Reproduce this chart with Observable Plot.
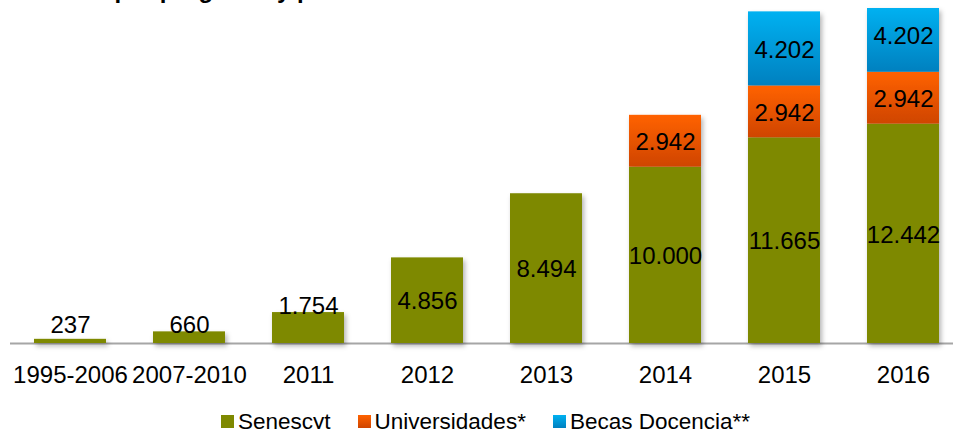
<!DOCTYPE html>
<html>
<head>
<meta charset="utf-8">
<script src="https://cdn.jsdelivr.net/npm/d3@7"></script>
<script src="https://cdn.jsdelivr.net/npm/@observablehq/plot@0.6"></script>
<style>
  html, body { margin: 0; padding: 0; background: #fff; overflow: hidden; }
  #wrap { position: relative; width: 953px; height: 429px; overflow: hidden; font-family: "Liberation Sans", Arial, sans-serif; }
  #title { position: absolute; left: 37px; top: -25px; font-weight: bold; font-size: 24px; line-height: 29px; white-space: nowrap; color: #000; }
  #legend { position: absolute; top: 408px; left: 0; width: 953px; box-sizing: border-box; padding-left: 18px;
            display: flex; justify-content: center; gap: 27px; font-size: 22.5px; line-height: 27px; color: #000; }
  .item { display: flex; align-items: center; gap: 4px; white-space: nowrap; }
  .sw { width: 13px; height: 13px; display: inline-block; }
</style>
</head>
<body>
<div id="wrap">
  <div id="title">Becas por programa y por año</div>
  <div id="chart"></div>
  <div id="legend"></div>
</div>
<script>
const categories = ["1995-2006", "2007-2010", "2011", "2012", "2013", "2014", "2015", "2016"];
const seriesNames = ["Senescyt", "Universidades*", "Becas Docencia**"];
const senescyt = [237, 660, 1754, 4856, 8494, 10000, 11665, 12442];
const universidades = [0, 0, 0, 0, 0, 2942, 2942, 2942];
const becasDocencia = [0, 0, 0, 0, 0, 0, 4202, 4202];
const seriesValues = [senescyt, universidades, becasDocencia];

const gradients = [
  null,
  {id: "gOrange", top: "#ff6200", bottom: "#cf4500"},
  {id: "gBlue", top: "#00b1f1", bottom: "#0080bf"}
];
const fills = ["#7e8900", "url(#gOrange)", "url(#gBlue)"];
const swatchCss = ["#7e8900", "linear-gradient(#ff6200,#cf4500)", "linear-gradient(#00b1f1,#0080bf)"];

const fmt = d3.formatLocale({decimal: ",", thousands: ".", grouping: [3], currency: ["", ""]}).format(",d");

// build stacked rows from the arrays
const rows = [];
categories.forEach((cat, i) => {
  let acc = 0;
  seriesNames.forEach((s, k) => {
    const v = seriesValues[k][i];
    if (v > 0) {
      rows.push({cat, series: s, value: v, y1: acc, y2: acc + v, mid: acc + v / 2, small: v < 2000});
      acc += v;
    }
  });
});

const chart = Plot.plot({
  width: 953,
  height: 395,
  marginLeft: 10,
  marginRight: 0,
  marginTop: 8,
  marginBottom: 52,
  style: {fontFamily: "'Liberation Sans', Arial, sans-serif", fontSize: "24px", color: "#000", background: "transparent"},
  x: {domain: categories, range: [10.5, 962.5], paddingInner: 0.395, paddingOuter: 0.1975, label: null, tickSize: 0, tickPadding: 22},
  y: {domain: [0, 19000], axis: null, clamp: true},
  color: {domain: seriesNames, range: fills},
  marks: [
    Plot.ruleY([0], {stroke: "#a6a6a6", strokeWidth: 2}),
    Plot.barY(rows, {x: "cat", y1: "y1", y2: "y2", fill: "series"}),
    Plot.text(rows.filter(d => !d.small), {x: "cat", y: "mid", text: d => fmt(d.value), lineAnchor: "middle", dy: 1, fontSize: 24, fill: "#000"}),
    Plot.text(rows.filter(d => d.small), {x: "cat", y: d => Math.max(d.y2, 660), text: d => fmt(d.value), lineAnchor: "bottom", dy: 1, fontSize: 24, fill: "#000"})
  ]
});

// gradients + drop shadow
const svg = d3.select(chart);
const defs = svg.insert("defs", ":first-child");
gradients.filter(Boolean).forEach(g => {
  const lg = defs.append("linearGradient").attr("id", g.id).attr("x1", 0).attr("y1", 0).attr("x2", 0).attr("y2", 1);
  lg.append("stop").attr("offset", "0%").attr("stop-color", g.top);
  lg.append("stop").attr("offset", "100%").attr("stop-color", g.bottom);
});
const f = defs.append("filter").attr("id", "shadow").attr("x", "-10%").attr("y", "-10%").attr("width", "130%").attr("height", "130%");
f.append("feDropShadow").attr("dx", 2).attr("dy", 3).attr("stdDeviation", 2.5).attr("flood-color", "#000").attr("flood-opacity", 0.3);
svg.select('g[aria-label="bar"]').attr("filter", "url(#shadow)");

document.getElementById("chart").appendChild(chart);

// legend
const legend = document.getElementById("legend");
seriesNames.forEach((s, k) => {
  const it = document.createElement("div");
  it.className = "item";
  const sw = document.createElement("span");
  sw.className = "sw";
  sw.style.background = swatchCss[k];
  const t = document.createElement("span");
  t.textContent = s;
  it.appendChild(sw);
  it.appendChild(t);
  legend.appendChild(it);
});
</script>
</body>
</html>
